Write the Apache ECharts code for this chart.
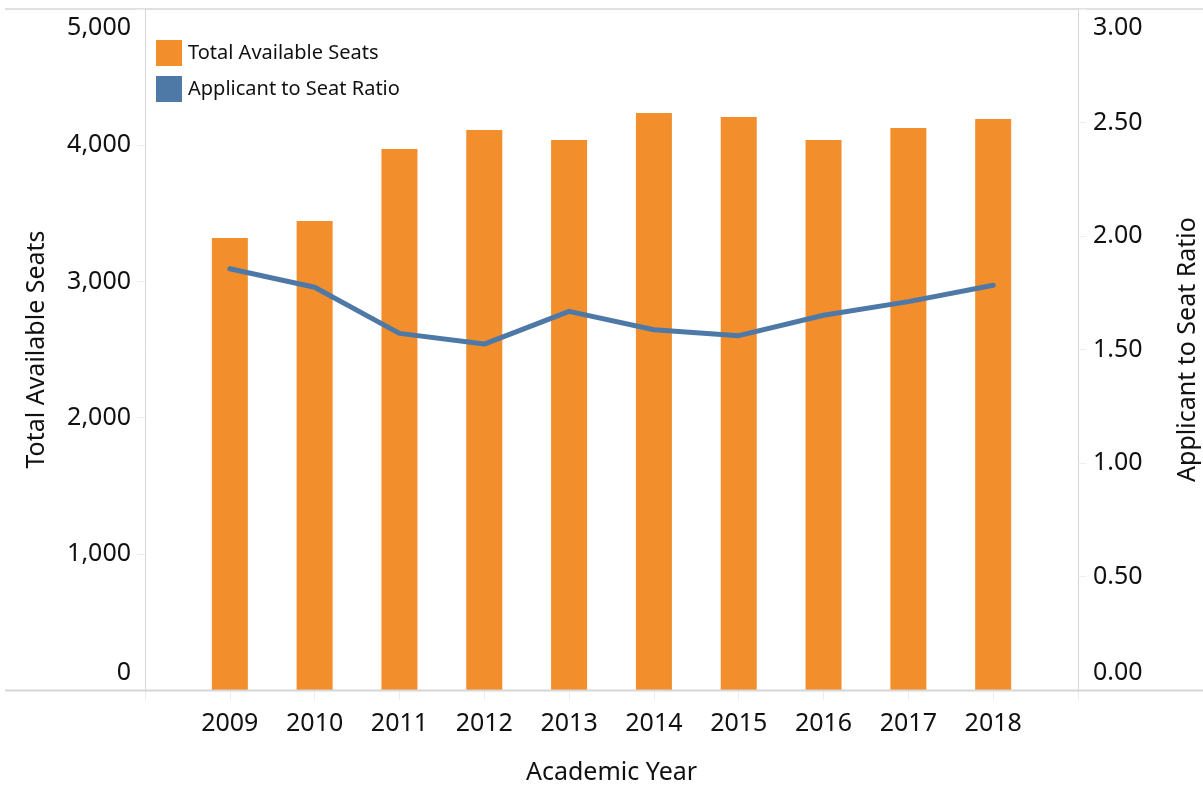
<!DOCTYPE html>
<html>
<head>
<meta charset="utf-8">
<script src="https://cdn.jsdelivr.net/npm/echarts@6/dist/echarts.min.js"></script>
<style>
  html, body { margin: 0; padding: 0; background: #fff; }
  #main { width: 1203px; height: 785px; }
</style>
</head>
<body>
<div id="main"></div>
<script>
// 学年、座位数、申请比
const years = ["2009", "2010", "2011", "2012", "2013", "2014", "2015", "2016", "2017", "2018"];
const seats = [3319, 3443, 3972, 4112, 4038, 4236, 4207, 4038, 4126, 4192];
const ratio = [1.856, 1.774, 1.571, 1.524, 1.668, 1.587, 1.561, 1.651, 1.711, 1.783];
const seatTicks = [0, 1000, 2000, 3000, 4000, 5000];
const ratioTicks = [0, 0.5, 1, 1.5, 2, 2.5, 3];

const FONT = "Noto Sans";
const ORANGE = "#F28E2B";
const BLUE = "#4E79A7";
const AXIS = "#d6d6d6";

// 两端留空位置，模拟留白
const cats = ["", ...years, ""];
const seatData = [null, ...seats, null];
const ratioData = [null, ...ratio, null];

const lab = (extra) => Object.assign({ fontFamily: FONT, fontSize: 25, color: "#111" }, extra);

const chart = echarts.init(document.getElementById("main"));
chart.setOption({
  animation: false,
  grid: { left: 145, right: 125, top: 9, bottom: 95, containLabel: false, outerBoundsMode: "none" },
  legend: {
    orient: "vertical",
    left: 151,
    top: 35,
    itemWidth: 26,
    itemHeight: 26,
    itemGap: 10,
    textStyle: { fontFamily: FONT, fontSize: 20, color: "#111", padding: [0, 0, 0, 1] },
    data: [
      { name: "Total Available Seats", icon: "rect" },
      { name: "Applicant to Seat Ratio", icon: "rect", itemStyle: { color: BLUE } },
    ],
  },
  xAxis: {
    type: "category",
    data: cats,
    boundaryGap: false,
    name: "Academic Year",
    nameLocation: "middle",
    nameGap: 70,
    nameTextStyle: lab(),
    axisLine: { show: false },
    axisTick: { show: true, interval: 0, length: 10, lineStyle: { color: "#ececec" } },
    axisLabel: Object.assign(lab(), { interval: 0, margin: 21 }),
    splitLine: { show: false },
  },
  yAxis: [
    {
      type: "value",
      min: seatTicks[0],
      max: seatTicks[seatTicks.length - 1],
      interval: 1000,
      name: "Total Available Seats",
      nameLocation: "middle",
      nameGap: 96,
      nameTextStyle: lab(),
      axisLine: { show: true, lineStyle: { color: AXIS, width: 1 } },
      axisTick: { show: true, length: 8, lineStyle: { color: "#eeeeee" } },
      splitLine: { show: false },
      axisLabel: {
        margin: 14,
        formatter: (v) => {
          const s = v.toLocaleString("en-US");
          if (v === 0) return "{lo|" + s + "}";
          if (v === 5000) return "{hi|" + s + "}";
          return "{n|" + s + "}";
        },
        rich: {
          n: lab(),
          lo: lab({ padding: [0, 0, 34, 0] }),
          hi: lab({ padding: [37, 0, 0, 0] }),
        },
      },
    },
    {
      type: "value",
      position: "right",
      min: ratioTicks[0],
      max: ratioTicks[ratioTicks.length - 1],
      interval: 0.5,
      name: "Applicant to Seat Ratio",
      nameLocation: "middle",
      nameGap: 97,
      nameTextStyle: lab(),
      axisLine: { show: true, lineStyle: { color: AXIS, width: 1 } },
      axisTick: { show: true, length: 8, lineStyle: { color: "#eeeeee" } },
      splitLine: { show: false },
      axisLabel: {
        margin: 15,
        formatter: (v) => {
          const s = v.toFixed(2);
          if (v === 0) return "{lo|" + s + "}";
          if (v === 3) return "{hi|" + s + "}";
          return "{n|" + s + "}";
        },
        rich: {
          n: lab(),
          lo: lab({ padding: [0, 0, 34, 0] }),
          hi: lab({ padding: [37, 0, 0, 0] }),
        },
      },
    },
  ],
  graphic: [
    { type: "line", shape: { x1: 5, y1: 9, x2: 1203, y2: 9 }, style: { stroke: AXIS, lineWidth: 1.5 }, z: 0 },
    { type: "line", shape: { x1: 5, y1: 690.5, x2: 1203, y2: 690.5 }, style: { stroke: AXIS, lineWidth: 2 }, z: 10 },
  ],
  series: [
    {
      name: "Total Available Seats",
      type: "bar",
      data: seatData,
      barWidth: 36,
      itemStyle: { color: ORANGE },
    },
    {
      name: "Applicant to Seat Ratio",
      type: "line",
      yAxisIndex: 1,
      data: ratioData,
      showSymbol: false,
      symbol: "none",
      lineStyle: { color: BLUE, width: 5, cap: "round", join: "round" },
      itemStyle: { color: BLUE },
      z: 5,
    },
  ],
});
</script>
</body>
</html>
